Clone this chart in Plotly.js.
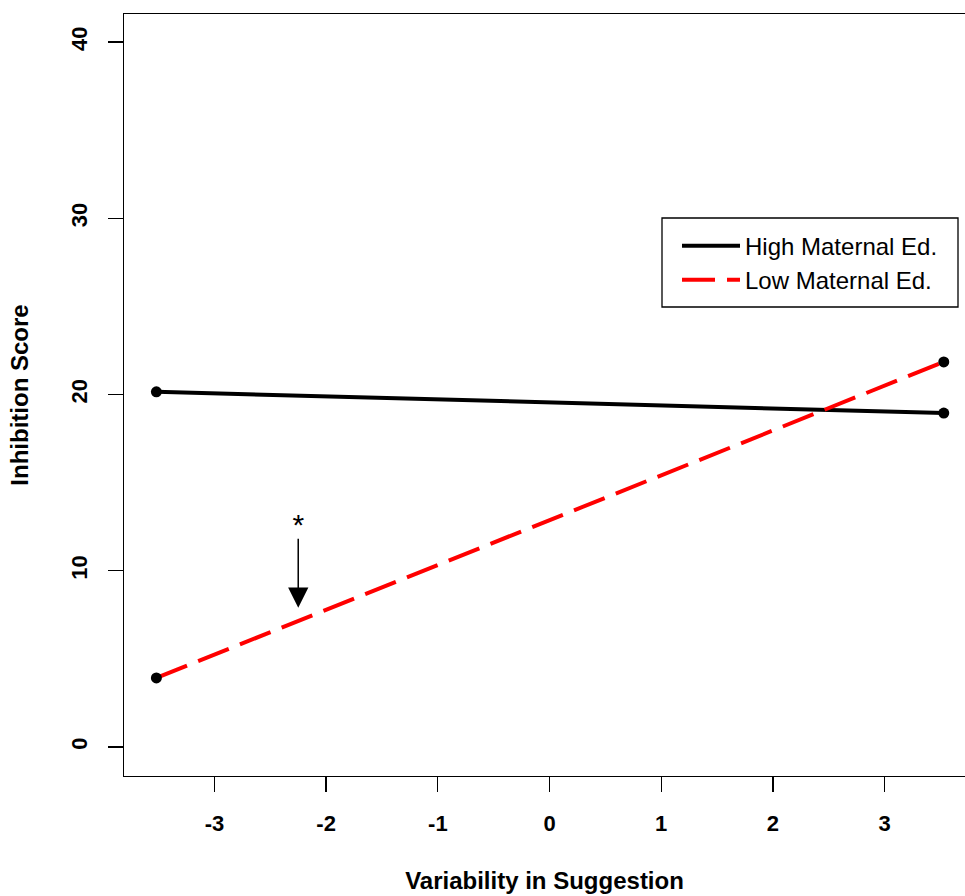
<!DOCTYPE html>
<html>
<head>
<meta charset="utf-8">
<script src="https://cdn.plot.ly/plotly-3.0.1.min.js"></script>
<style>html,body{margin:0;padding:0;background:#fff;}#chart{width:965px;height:896px;}</style>
</head>
<body>
<div id="chart"></div>
<script>
// Data
var xEnds = [-3.52, 3.53];
var highMaternal = [20.15, 18.95];
var lowMaternal = [3.92, 21.85];
var seriesNames = ["High Maternal Ed.", "Low Maternal Ed."];
var xTicks = [-3, -2, -1, 0, 1, 2, 3];
var yTicks = [0, 10, 20, 30, 40];
var arrowX = -2.25;
var arrowTailY = 11.9;
var arrowTipY = 7.9;
var starY = 12.45;

var FONT = "Liberation Sans, Arial, sans-serif";

var traces = [
  {x: xEnds, y: highMaternal, mode: "lines", name: seriesNames[0],
   line: {color: "#000000", width: 4}},
  {x: xEnds, y: lowMaternal, mode: "lines", name: seriesNames[1],
   line: {color: "#ff0000", width: 4, dash: "33px,12px"}},
  {x: xEnds, y: highMaternal, mode: "markers", showlegend: false, hoverinfo: "skip",
   marker: {color: "#000000", size: 11}},
  {x: xEnds, y: lowMaternal, mode: "markers", showlegend: false, hoverinfo: "skip",
   marker: {color: "#000000", size: 11}},
  {x: [arrowX], y: [starY], mode: "text", text: ["*"], showlegend: false, hoverinfo: "skip",
   textfont: {family: FONT, size: 30, color: "#000000"}}
];

var layout = {
  width: 965, height: 896,
  margin: {l: 124, r: 0, t: 14, b: 120},
  paper_bgcolor: "#ffffff", plot_bgcolor: "#ffffff",
  showlegend: true,
  xaxis: {
    range: [-3.81, 3.72],
    tickvals: xTicks, ticktext: xTicks.map(String),
    showgrid: false, zeroline: false,
    showline: true, linecolor: "#000000", linewidth: 1.3, mirror: true,
    ticks: "outside", ticklen: 15, tickwidth: 1.3, tickcolor: "#000000",
    tickfont: {family: FONT, size: 22, color: "#000000", weight: "bold"},
    ticklabelstandoff: 12,
    title: {text: "Variability in Suggestion", standoff: 37,
            font: {family: FONT, size: 24, color: "#000000", weight: "bold"}}
  },
  yaxis: {
    range: [-1.645, 41.59],
    tickvals: yTicks, ticktext: yTicks.map(String),
    showgrid: false, zeroline: false,
    showline: true, linecolor: "#000000", linewidth: 1.3, mirror: false,
    ticks: "outside", ticklen: 15, tickwidth: 1.3, tickcolor: "#000000",
    tickangle: -90,
    tickfont: {family: FONT, size: 22, color: "#000000", weight: "bold"},
    ticklabelstandoff: 12,
    title: {text: "Inhibition Score", standoff: 31,
            font: {family: FONT, size: 24, color: "#000000", weight: "bold"}}
  },
  legend: {
    x: (677 - 124) / 841, y: 0.725, xanchor: "left", yanchor: "top",
    bgcolor: "rgba(0,0,0,0)", borderwidth: 0,
    font: {family: FONT, size: 24, color: "#000000"},
    itemwidth: 58,
    tracegroupgap: 0
  },
  annotations: [
    {x: arrowX, y: arrowTipY, ax: arrowX, ay: arrowTailY,
     xref: "x", yref: "y", axref: "x", ayref: "y",
     text: "", showarrow: true, arrowhead: 2, arrowsize: 2.7,
     arrowwidth: 1.5, arrowcolor: "#000000", standoff: 0, startstandoff: 0}
  ],
  shapes: [
    {type: "rect", xref: "paper", yref: "paper",
     x0: (662 - 124) / 841, x1: (958 - 124) / 841,
     y0: (776 - 307) / 762, y1: (776 - 218) / 762,
     line: {color: "#000000", width: 1.3}, fillcolor: "rgba(0,0,0,0)"}
  ]
};

Plotly.newPlot("chart", traces, layout, {displayModeBar: false, staticPlot: true});
</script>
</body>
</html>
